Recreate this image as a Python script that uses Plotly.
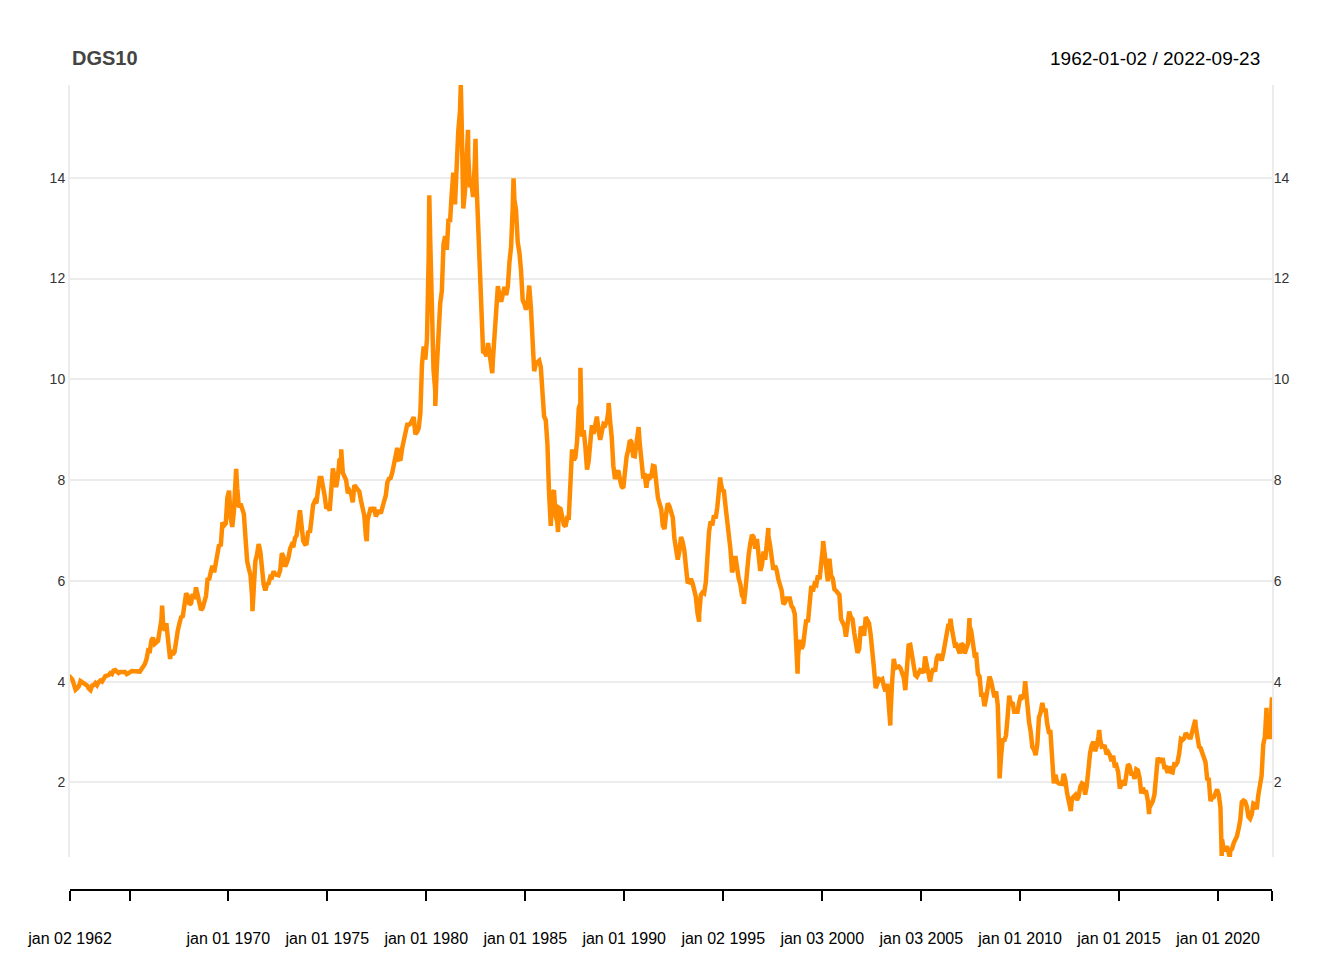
import pandas as pd
import plotly.graph_objects as go

# monthly 10y treasury yield (%), one row per year
start_month = "1962-01-01"
dgs10_monthly = [
    4.08, 4.04, 3.93, 3.84, 3.87, 3.91, 4.01, 3.98, 3.98, 3.93, 3.92, 3.86,  # 1962
    3.83, 3.92, 3.93, 3.97, 3.93, 3.99, 4.02, 4.00, 4.08, 4.11, 4.12, 4.13,  # 1963
    4.17, 4.15, 4.22, 4.23, 4.20, 4.17, 4.19, 4.19, 4.20, 4.19, 4.15, 4.18,  # 1964
    4.19, 4.21, 4.21, 4.20, 4.21, 4.21, 4.20, 4.25, 4.29, 4.35, 4.45, 4.62,  # 1965
    4.61, 4.83, 4.87, 4.75, 4.78, 4.81, 5.02, 5.22, 5.18, 5.01, 5.16, 4.84,  # 1966
    4.58, 4.63, 4.54, 4.59, 4.85, 5.02, 5.16, 5.28, 5.30, 5.48, 5.75, 5.70,  # 1967
    5.53, 5.56, 5.74, 5.64, 5.87, 5.72, 5.50, 5.42, 5.46, 5.58, 5.70, 6.03,  # 1968
    6.04, 6.19, 6.30, 6.17, 6.32, 6.57, 6.72, 6.69, 7.16, 7.10, 7.14, 7.65,  # 1969
    7.79, 7.24, 7.07, 7.39, 7.91, 7.84, 7.46, 7.53, 7.39, 7.33, 6.84, 6.39,  # 1970
    6.24, 6.11, 5.70, 5.83, 6.39, 6.52, 6.73, 6.58, 6.14, 5.93, 5.81, 5.93,  # 1971
    5.95, 6.08, 6.07, 6.19, 6.13, 6.11, 6.11, 6.21, 6.55, 6.48, 6.28, 6.36,  # 1972
    6.46, 6.64, 6.71, 6.67, 6.85, 6.90, 7.13, 7.40, 7.09, 6.79, 6.73, 6.74,  # 1973
    6.99, 6.96, 7.21, 7.51, 7.58, 7.54, 7.81, 8.04, 8.04, 7.90, 7.68, 7.43,  # 1974
    7.50, 7.39, 7.73, 8.23, 8.06, 7.86, 8.06, 8.40, 8.43, 8.14, 8.05, 8.00,  # 1975
    7.74, 7.79, 7.73, 7.56, 7.90, 7.86, 7.83, 7.77, 7.59, 7.41, 7.29, 6.87,  # 1976
    7.21, 7.39, 7.46, 7.37, 7.46, 7.28, 7.33, 7.40, 7.34, 7.52, 7.58, 7.69,  # 1977
    7.96, 8.03, 8.04, 8.15, 8.35, 8.46, 8.64, 8.41, 8.42, 8.64, 8.81, 9.01,  # 1978
    9.10, 9.10, 9.12, 9.18, 9.25, 8.91, 8.95, 9.03, 9.33, 10.30, 10.65, 10.39,  # 1979
    10.80, 12.41, 12.75, 11.47, 10.18, 9.78, 10.25, 11.10, 11.51, 11.75, 12.68, 12.84,  # 1980
    12.57, 13.19, 13.12, 13.68, 14.10, 13.47, 14.28, 14.94, 15.32, 15.15, 13.39, 13.72,  # 1981
    14.59, 14.43, 13.86, 13.87, 13.62, 14.30, 13.95, 13.06, 12.34, 10.91, 10.55, 10.54,  # 1982
    10.46, 10.72, 10.51, 10.40, 10.38, 10.85, 11.38, 11.85, 11.65, 11.54, 11.69, 11.83,  # 1983
    11.67, 11.84, 12.32, 12.63, 13.41, 13.56, 13.36, 12.72, 12.52, 12.16, 11.57, 11.50,  # 1984
    11.38, 11.51, 11.86, 11.43, 10.85, 10.16, 10.31, 10.33, 10.37, 10.24, 9.78, 9.26,  # 1985
    9.19, 8.70, 7.78, 7.30, 7.71, 7.80, 7.30, 7.17, 7.45, 7.43, 7.25, 7.11,  # 1986
    7.08, 7.25, 7.25, 8.02, 8.61, 8.40, 8.45, 8.76, 9.42, 9.52, 8.86, 8.99,  # 1987
    8.67, 8.21, 8.37, 8.72, 9.09, 8.92, 9.06, 9.26, 8.98, 8.80, 8.96, 9.11,  # 1988
    9.09, 9.17, 9.36, 9.18, 8.86, 8.28, 8.02, 8.11, 8.19, 8.01, 7.87, 7.84,  # 1989
    8.21, 8.47, 8.59, 8.79, 8.76, 8.48, 8.47, 8.75, 8.89, 8.72, 8.39, 8.08,  # 1990
    8.09, 7.85, 8.11, 8.04, 8.07, 8.28, 8.27, 7.90, 7.65, 7.53, 7.42, 7.09,  # 1991
    7.03, 7.34, 7.54, 7.48, 7.39, 7.26, 6.84, 6.59, 6.42, 6.59, 6.87, 6.77,  # 1992
    6.60, 6.26, 5.98, 5.97, 6.04, 5.96, 5.81, 5.68, 5.36, 5.33, 5.72, 5.77,  # 1993
    5.75, 5.97, 6.48, 6.97, 7.18, 7.10, 7.30, 7.24, 7.46, 7.74, 7.96, 7.81,  # 1994
    7.78, 7.47, 7.20, 7.06, 6.63, 6.17, 6.28, 6.49, 6.20, 6.04, 5.93, 5.71,  # 1995
    5.65, 5.81, 6.27, 6.51, 6.74, 6.91, 6.87, 6.64, 6.83, 6.53, 6.20, 6.30,  # 1996
    6.58, 6.42, 6.69, 6.89, 6.71, 6.49, 6.22, 6.30, 6.21, 6.03, 5.88, 5.81,  # 1997
    5.54, 5.57, 5.65, 5.64, 5.65, 5.50, 5.46, 5.34, 4.81, 4.53, 4.83, 4.65,  # 1998
    4.72, 5.00, 5.23, 5.18, 5.54, 5.90, 5.79, 5.94, 5.92, 6.11, 6.03, 6.28,  # 1999
    6.66, 6.52, 6.26, 5.99, 6.44, 6.10, 6.05, 5.83, 5.80, 5.74, 5.72, 5.24,  # 2000
    5.16, 5.10, 4.89, 5.14, 5.39, 5.28, 5.24, 4.97, 4.73, 4.57, 4.65, 5.09,  # 2001
    5.04, 4.91, 5.28, 5.21, 5.16, 4.93, 4.65, 4.26, 3.87, 3.94, 4.05, 4.03,  # 2002
    4.05, 3.90, 3.81, 3.96, 3.57, 3.33, 3.98, 4.45, 4.27, 4.29, 4.30, 4.27,  # 2003
    4.15, 4.08, 3.83, 4.35, 4.72, 4.73, 4.50, 4.28, 4.13, 4.10, 4.19, 4.23,  # 2004
    4.22, 4.17, 4.50, 4.34, 4.14, 4.00, 4.18, 4.26, 4.20, 4.46, 4.54, 4.47,  # 2005
    4.42, 4.57, 4.72, 4.99, 5.11, 5.11, 5.09, 4.88, 4.72, 4.73, 4.60, 4.56,  # 2006
    4.76, 4.72, 4.56, 4.69, 4.75, 5.10, 5.00, 4.67, 4.52, 4.53, 4.15, 4.10,  # 2007
    3.74, 3.74, 3.51, 3.68, 3.88, 4.10, 4.01, 3.89, 3.69, 3.81, 3.53, 2.42,  # 2008
    2.52, 2.87, 2.82, 2.93, 3.29, 3.72, 3.56, 3.59, 3.40, 3.39, 3.40, 3.59,  # 2009
    3.73, 3.69, 3.73, 3.85, 3.42, 3.20, 3.01, 2.70, 2.65, 2.54, 2.76, 3.29,  # 2010
    3.39, 3.58, 3.41, 3.46, 3.17, 3.00, 3.00, 2.30, 1.98, 2.15, 2.01, 1.98,  # 2011
    1.97, 1.97, 2.17, 2.05, 1.80, 1.62, 1.53, 1.68, 1.72, 1.75, 1.65, 1.72,  # 2012
    1.91, 1.98, 1.96, 1.76, 1.93, 2.30, 2.58, 2.74, 2.81, 2.62, 2.72, 2.90,  # 2013
    2.86, 2.71, 2.72, 2.71, 2.56, 2.60, 2.54, 2.42, 2.53, 2.30, 2.33, 2.21,  # 2014
    1.88, 1.98, 2.04, 1.94, 2.20, 2.36, 2.32, 2.17, 2.17, 2.07, 2.26, 2.24,  # 2015
    2.09, 1.78, 1.89, 1.81, 1.81, 1.64, 1.50, 1.56, 1.63, 1.76, 2.14, 2.49,  # 2016
    2.43, 2.42, 2.48, 2.30, 2.30, 2.19, 2.32, 2.21, 2.20, 2.36, 2.35, 2.40,  # 2017
    2.58, 2.86, 2.84, 2.87, 2.98, 2.91, 2.89, 2.89, 3.00, 3.15, 3.12, 2.83,  # 2018
    2.71, 2.68, 2.57, 2.53, 2.40, 2.07, 2.06, 1.63, 1.70, 1.71, 1.81, 1.86,  # 2019
    1.76, 1.50, 0.87, 0.66, 0.67, 0.73, 0.62, 0.65, 0.68, 0.79, 0.87, 0.93,  # 2020
    1.08, 1.26, 1.61, 1.64, 1.62, 1.52, 1.32, 1.28, 1.37, 1.58, 1.56, 1.47,  # 2021
    1.76, 1.93, 2.13, 2.75, 2.90, 3.14, 2.90, 2.90,  # 2022
]

# single days where the daily series reaches past the monthly level
spike_dates = [
    "1962-01-02", "1966-08-29", "1967-01-23", "1970-05-26", "1971-03-23",
    "1975-09-15", "1976-12-30", "1980-02-26", "1980-06-16", "1981-09-30",
    "1982-02-10", "1982-06-28", "1983-05-04", "1984-05-30", "1986-04-17",
    "1986-08-29", "1987-10-16", "1989-03-20", "1990-09-24", "1993-10-15",
    "1994-11-07", "1996-01-18", "1997-04-14", "1998-10-05", "2000-01-20",
    "2003-06-13", "2006-06-28", "2007-06-12", "2008-12-18", "2010-04-05",
    "2012-07-25", "2013-12-31", "2016-07-08", "2018-11-08", "2020-03-09",
    "2020-08-04", "2022-06-14", "2022-09-23",
]
spike_values = [
    4.06, 5.51, 4.45, 8.22, 5.40,
    8.61, 6.79, 13.65, 9.47, 15.84,
    14.95, 14.77, 10.12, 13.99, 7.09,
    6.97, 10.23, 9.53, 9.05, 5.19,
    8.05, 5.54, 7.05, 4.16, 6.79,
    3.13, 5.25, 5.26, 2.08, 4.01,
    1.43, 3.04, 1.37, 3.24, 0.54,
    0.52, 3.48, 3.69,
]

tick_dates = [
    "1962-01-02", "1965-01-04", "1970-01-01", "1975-01-01", "1980-01-01",
    "1985-01-01", "1990-01-01", "1995-01-02", "2000-01-03", "2005-01-03",
    "2010-01-01", "2015-01-01", "2020-01-01", "2022-09-23",
]
tick_labels = [
    "jan 02 1962", "", "jan 01 1970", "jan 01 1975", "jan 01 1980",
    "jan 01 1985", "jan 01 1990", "jan 02 1995", "jan 03 2000", "jan 03 2005",
    "jan 01 2010", "jan 01 2015", "jan 01 2020", "",
]
y_ticks = [2, 4, 6, 8, 10, 12, 14]

monthly = pd.DataFrame({
    "date": pd.date_range(start_month, periods=len(dgs10_monthly), freq="MS") + pd.Timedelta(days=14),
    "value": dgs10_monthly,
})
spikes = pd.DataFrame({"date": pd.to_datetime(spike_dates), "value": spike_values})
series = pd.concat([monthly, spikes]).sort_values("date")

FONT = "Liberation Sans, Arial, sans-serif"
GRID = "#ECECEC"
y_range = [min(spike_values), max(spike_values)]

fig = go.Figure()
fig.add_trace(
    go.Scatter(
        x=series["date"],
        y=series["value"],
        mode="lines",
        line=dict(color="#FF8C00", width=4.5),
        showlegend=False,
        hoverinfo="x+y",
    )
)

# page body has an 8px margin, so the figure is sized to sit inside the window
fig.update_layout(
    width=1328,
    height=944,
    margin=dict(l=62, r=64, t=77, b=62),
    paper_bgcolor="white",
    plot_bgcolor="white",
    font=dict(family=FONT, color="#333333"),
    xaxis=dict(
        type="date",
        range=[spike_dates[0], spike_dates[-1]],
        anchor="free",
        position=0,
        automargin=False,
        showgrid=False,
        zeroline=False,
        showline=True,
        linecolor="black",
        linewidth=2,
        ticks="outside",
        ticklen=10,
        tickwidth=2,
        tickcolor="black",
        tickmode="array",
        tickvals=tick_dates,
        ticktext=tick_labels,
        tickfont=dict(size=16, color="black"),
        ticklabelstandoff=24,
    ),
    yaxis=dict(
        domain=[0.041, 1],
        range=y_range,
        automargin=False,
        tickmode="array",
        tickvals=y_ticks,
        showgrid=True,
        gridcolor=GRID,
        gridwidth=2,
        zeroline=False,
        showline=True,
        linecolor=GRID,
        linewidth=2,
        ticks="",
        tickfont=dict(size=14, color="#333333"),
        ticklabelstandoff=0,
    ),
    yaxis2=dict(
        domain=[0.041, 1],
        overlaying="y",
        side="right",
        anchor="x",
        range=y_range,
        automargin=False,
        tickmode="array",
        tickvals=y_ticks,
        showgrid=False,
        zeroline=False,
        showline=True,
        linecolor=GRID,
        linewidth=2,
        ticks="",
        tickfont=dict(size=14, color="#333333"),
        ticklabelstandoff=-3,
    ),
    annotations=[
        dict(
            text="<b>DGS10</b>",
            xref="paper", yref="paper", x=0.0, y=1.0335,
            xanchor="left", yanchor="middle", showarrow=False,
            font=dict(size=20, color="#444444"),
        ),
        dict(
            text="1962-01-02 / 2022-09-23",
            xref="paper", yref="paper", x=0.9915, y=1.0335,
            xanchor="right", yanchor="middle", showarrow=False,
            font=dict(size=19, color="black"),
        ),
    ],
)

# empty trace so the right-hand axis is drawn
fig.add_trace(go.Scatter(x=[], y=[], yaxis="y2", showlegend=False))

fig.write_html("out.html")
